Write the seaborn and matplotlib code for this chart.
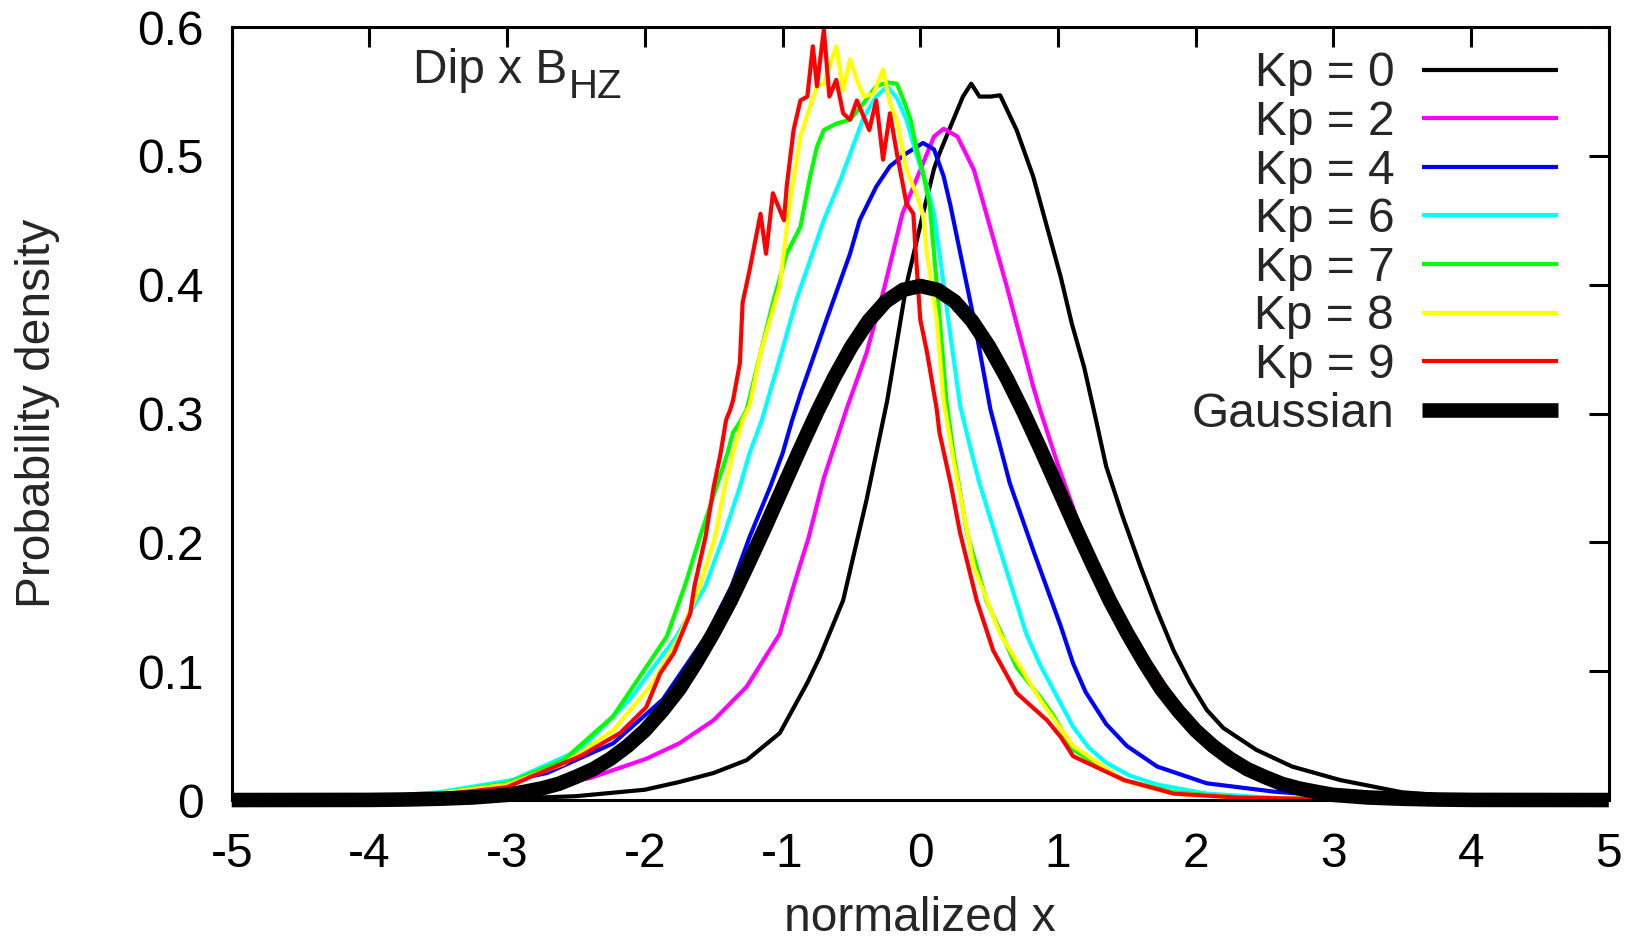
import matplotlib
matplotlib.use('Agg')
import matplotlib.pyplot as plt
import seaborn as sns

# values (x: normalized x, y: probability density)
kp0_x = [-5, -4, -3, -2.5, -2.0, -1.75, -1.5, -1.26, -1.02, -0.82, -0.73, -0.56, -0.39, -0.24, -0.1,
         0.02, 0.1, 0.14, 0.24, 0.31, 0.37, 0.43, 0.51, 0.58, 0.70, 0.82, 1.02, 1.10, 1.19, 1.27, 1.35, 1.47,
         1.60, 1.72, 1.84, 1.96, 2.08, 2.2, 2.44, 2.7, 3.05, 3.5, 4.0, 5.0]
kp0_y = [0, 0.0005, 0.001, 0.003, 0.008, 0.014, 0.021, 0.031, 0.052, 0.091, 0.111, 0.155, 0.233, 0.31, 0.40,
         0.455, 0.49, 0.502, 0.528, 0.546, 0.556, 0.546, 0.546, 0.547, 0.52, 0.484, 0.406, 0.37, 0.336, 0.298, 0.259,
         0.22, 0.181, 0.147, 0.116, 0.091, 0.070, 0.056, 0.039, 0.026, 0.0155, 0.006, 0.002, 0.0]

kp2_x = [-5, -4, -3.5, -3, -2.4, -1.99, -1.75, -1.5, -1.26, -1.02, -0.92, -0.81, -0.70, -0.53, -0.39, -0.26,
         -0.13, 0.0, 0.1, 0.17, 0.27, 0.39, 0.48, 0.63, 0.82, 0.87, 1.0, 1.2, 1.5, 2.0, 2.5, 3.0, 3.5, 4.0, 5.0]
kp2_y = [0, 0.0005, 0.002, 0.005, 0.017, 0.032, 0.044, 0.062, 0.088, 0.129, 0.166, 0.204, 0.25, 0.305, 0.347, 0.398,
         0.455, 0.489, 0.515, 0.521, 0.515, 0.489, 0.455, 0.398, 0.321, 0.303, 0.26, 0.20, 0.132, 0.055, 0.019, 0.006,
         0.002, 0.0005, 0]

kp4_x = [-5, -4, -3.5, -3.2, -2.71, -2.23, -1.87, -1.55, -1.37, -1.24, -1.09, -1.0, -0.93, -0.87, -0.68, -0.51,
         -0.44, -0.32, -0.22, -0.1, 0.02, 0.1, 0.17, 0.22, 0.39, 0.51, 0.65, 0.82, 1.02, 1.11, 1.2, 1.35, 1.5, 1.72,
         2.08, 2.57, 3.0, 4.0, 5.0]
kp4_y = [0, 0.002, 0.005, 0.010, 0.021, 0.044, 0.078, 0.128, 0.166, 0.204, 0.243, 0.269, 0.295, 0.315, 0.373, 0.424,
         0.450, 0.476, 0.492, 0.502, 0.510, 0.505, 0.484, 0.461, 0.373, 0.303, 0.246, 0.194, 0.135, 0.106, 0.084, 0.059,
         0.042, 0.026, 0.013, 0.0065, 0.003, 0.0005, 0]

kp6_x = [-5, -4, -3.5, -2.96, -2.47, -2.11, -1.77, -1.56, -1.43, -1.31, -1.24, -1.15, -1.0, -0.9, -0.70, -0.58,
         -0.49, -0.41, -0.32, -0.24, -0.17, -0.1, -0.03, 0.05, 0.1, 0.14, 0.22, 0.29, 0.36, 0.43, 0.58, 0.77, 0.87,
         1.02, 1.11, 1.22, 1.35, 1.52, 1.72, 2.08, 2.5, 3.0, 5.0]
kp6_y = [0, 0.002, 0.006, 0.0155, 0.039, 0.078, 0.127, 0.166, 0.204, 0.243, 0.269, 0.295, 0.35, 0.388, 0.450, 0.481,
         0.507, 0.530, 0.546, 0.554, 0.545, 0.528, 0.502, 0.476, 0.455, 0.424, 0.36, 0.306, 0.275, 0.246, 0.194, 0.129,
         0.105, 0.075, 0.057, 0.041, 0.029, 0.019, 0.012, 0.005, 0.002, 0.0005, 0]

kp7_x = [-5, -4, -3.5, -3.0, -2.59, -2.23, -1.84, -1.71, -1.60, -1.48, -1.40, -1.36, -1.30, -1.26, -1.16, -1.07,
         -0.97, -0.87, -0.80, -0.75, -0.70, -0.61, -0.51, -0.41, -0.32, -0.24, -0.17, -0.12, -0.07, -0.03, 0.02,
         0.07, 0.12, 0.19, 0.24, 0.34, 0.48, 0.70, 0.87, 0.97, 1.11, 1.48, 1.84, 2.3, 3.0, 5.0]
kp7_y = [0, 0.002, 0.005, 0.013, 0.031, 0.065, 0.127, 0.166, 0.204, 0.243, 0.269, 0.285, 0.295, 0.303, 0.347, 0.386,
         0.424, 0.445, 0.484, 0.507, 0.520, 0.525, 0.528, 0.541, 0.554, 0.557, 0.556, 0.543, 0.528, 0.507, 0.487,
         0.461, 0.40, 0.31, 0.27, 0.207, 0.155, 0.103, 0.080, 0.065, 0.039, 0.0155, 0.006, 0.002, 0.0005, 0]

kp8_x = [-5, -4, -3.5, -3.0, -2.59, -2.23, -1.94, -1.75, -1.60, -1.49, -1.42, -1.36, -1.29, -1.24, -1.16, -1.02,
         -0.945, -0.87, -0.80, -0.75, -0.70, -0.61, -0.56, -0.51, -0.46, -0.41, -0.34, -0.27, -0.22, -0.17, -0.10,
         -0.03, 0.02, 0.05, 0.12, 0.17, 0.24, 0.39, 0.58, 0.87, 1.11, 1.48, 1.84, 2.3, 3.0, 5.0]
kp8_y = [0, 0.002, 0.005, 0.012, 0.028, 0.054, 0.091, 0.127, 0.166, 0.204, 0.243, 0.269, 0.295, 0.306, 0.347, 0.399,
         0.465, 0.515, 0.538, 0.554, 0.556, 0.585, 0.551, 0.575, 0.559, 0.546, 0.548, 0.567, 0.541, 0.528, 0.489,
         0.471, 0.455, 0.424, 0.373, 0.31, 0.265, 0.181, 0.129, 0.078, 0.042, 0.015, 0.005, 0.002, 0.0005, 0]

kp9_x = [-5, -4, -3.5, -3.0, -2.83, -2.47, -2.18, -1.99, -1.89, -1.79, -1.67, -1.64, -1.56, -1.50, -1.45, -1.41,
         -1.38, -1.36, -1.31, -1.29, -1.24, -1.16, -1.12, -1.07, -0.99, -0.97, -0.92, -0.87, -0.82, -0.78, -0.75,
         -0.70, -0.66, -0.61, -0.56, -0.51, -0.46, -0.37, -0.32, -0.27, -0.22, -0.17, -0.10, -0.05, -0.04, 0.0,
         0.05, 0.12, 0.14, 0.22, 0.29, 0.41, 0.53, 0.70, 0.92, 1.02, 1.11, 1.48, 1.84, 2.3, 3.0, 5.0]
kp9_y = [0, 0.002, 0.004, 0.010, 0.018, 0.034, 0.052, 0.072, 0.098, 0.114, 0.145, 0.166, 0.204, 0.243, 0.269, 0.295,
         0.303, 0.31, 0.339, 0.386, 0.411, 0.455, 0.424, 0.471, 0.450, 0.476, 0.520, 0.543, 0.546, 0.585, 0.554,
         0.598, 0.546, 0.559, 0.533, 0.528, 0.543, 0.520, 0.543, 0.497, 0.533, 0.502, 0.463, 0.455, 0.437, 0.373,
         0.347, 0.303, 0.285, 0.246, 0.207, 0.155, 0.116, 0.083, 0.062, 0.049, 0.034, 0.0155, 0.005, 0.002, 0.0005, 0]

gauss_x = [-5, -4, -3.75, -3.5, -3.25, -3, -2.875, -2.75, -2.625, -2.5, -2.375, -2.25, -2.125, -2, -1.875,
           -1.75, -1.625, -1.5, -1.375, -1.25, -1.125, -1, -0.875, -0.75, -0.625, -0.5, -0.375, -0.25, -0.125, 0,
           0.125, 0.25, 0.375, 0.5, 0.625, 0.75, 0.875, 1, 1.125, 1.25, 1.375, 1.5, 1.625, 1.75, 1.875, 2,
           2.125, 2.25, 2.375, 2.5, 2.625, 2.75, 2.875, 3, 3.25, 3.5, 3.75, 4, 5]
gauss_y = [0, 0.0001, 0.0004, 0.001, 0.002, 0.004, 0.0064, 0.009, 0.0126, 0.018, 0.024, 0.032, 0.042, 0.054, 0.069,
           0.086, 0.107, 0.13, 0.155, 0.183, 0.212, 0.242, 0.272, 0.301, 0.328, 0.352, 0.372, 0.387, 0.396, 0.399,
           0.396, 0.387, 0.372, 0.352, 0.328, 0.301, 0.272, 0.242, 0.212, 0.183, 0.155, 0.13, 0.107, 0.086, 0.069, 0.054,
           0.042, 0.032, 0.024, 0.018, 0.0126, 0.009, 0.0064, 0.004, 0.002, 0.001, 0.0004, 0.0001, 0]

series = [
    ('Kp = 0', kp0_x, kp0_y, 'black'),
    ('Kp = 2', kp2_x, kp2_y, '#ff00ff'),
    ('Kp = 4', kp4_x, kp4_y, '#0000ff'),
    ('Kp = 6', kp6_x, kp6_y, '#00ffff'),
    ('Kp = 7', kp7_x, kp7_y, '#00ff00'),
    ('Kp = 8', kp8_x, kp8_y, '#ffff00'),
    ('Kp = 9', kp9_x, kp9_y, '#ff0000'),
]

FS = 34.5

sns.set_theme(style='white')
plt.rcParams['font.family'] = ['Liberation Sans', 'DejaVu Sans']
plt.rcParams['axes.unicode_minus'] = False
plt.rcParams['lines.solid_capstyle'] = 'butt'

fig = plt.figure(figsize=(16.47, 9.41), dpi=100)
ax = fig.add_axes([0.1407, 0.1498, 0.8361, 0.8215])

for label, xs, ys, col in series:
    sns.lineplot(x=xs, y=ys, ax=ax, color=col, linewidth=3.0, label=label, sort=False)
sns.lineplot(x=gauss_x, y=gauss_y, ax=ax, color='black', linewidth=10.5, label='Gaussian', sort=False)
ax.lines[-1].set_clip_on(False)

ax.set_xlim(-5, 5)
ax.set_ylim(0, 0.6)
ax.set_xticks(range(-5, 6))
ax.set_yticks([0, 0.1, 0.2, 0.3, 0.4, 0.5, 0.6])
ax.set_yticklabels(['0', '0.1', '0.2', '0.3', '0.4', '0.5', '0.6'])
ax.tick_params(direction='in', length=14.4, width=2.2, top=True, right=True,
               labelsize=FS, colors='black')
ax.tick_params(axis='x', pad=23)
ax.tick_params(axis='y', pad=20.5)
for sp in ax.spines.values():
    sp.set_linewidth(2.2)
    sp.set_color('black')

ax.set_xlabel('normalized x', fontsize=FS)
ax.set_ylabel('Probability density', fontsize=FS)
ax.xaxis.set_label_coords(0.5, -0.124)
ax.yaxis.set_label_coords(-0.1247, 0.5)

# "Dip x B" with a gnuplot-like subscript HZ
t = ax.text(0.1317, 0.927, 'Dip x B', transform=ax.transAxes,
            fontsize=FS, ha='left', va='baseline')
ax.annotate('HZ', xy=(1, 0), xycoords=t, xytext=(1, -5), textcoords='offset pixels',
            fontsize=29, ha='left', va='baseline')

ax.legend(loc='upper right', bbox_to_anchor=(0.9632, 0.9685), markerfirst=False,
          frameon=False, fontsize=FS, handlelength=2.84, handletextpad=0.58,
          labelspacing=0.075, borderpad=0, borderaxespad=0)

fig.savefig('out.png', dpi=100)
